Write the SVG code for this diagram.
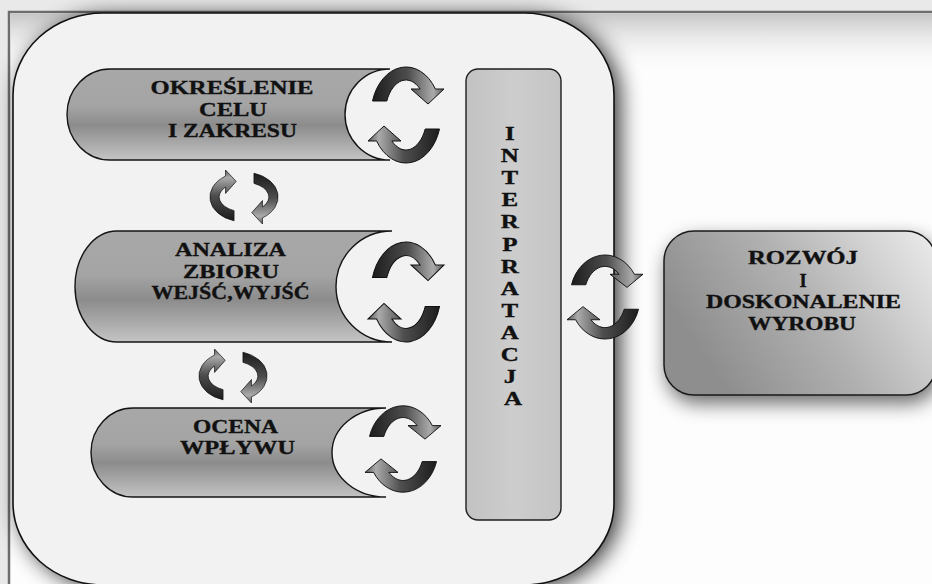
<svg xmlns="http://www.w3.org/2000/svg" width="932" height="584" viewBox="0 0 932 584">
  <defs>
    <style>
      .lbl{font-family:"Liberation Serif","Times New Roman",serif;font-weight:bold;font-size:18.5px;fill:#111;stroke:#111;stroke-width:0.35;text-anchor:middle}
      .tab{fill:url(#tabGrad);stroke:#151515;stroke-width:1.4}
      .ribbon{fill:url(#ribbonGrad);stroke:#111;stroke-width:1}
    </style>
    <linearGradient id="tabGrad" x1="0" y1="0" x2="0" y2="1">
      <stop offset="0" stop-color="#a8a8a8"/>
      <stop offset="0.4" stop-color="#a4a4a4"/>
      <stop offset="0.62" stop-color="#8c8c8c"/>
      <stop offset="1" stop-color="#c4c4c4"/>
    </linearGradient>
    <linearGradient id="ribbonGrad" x1="0" y1="0" x2="1" y2="0">
      <stop offset="0" stop-color="#1c1c1c"/>
      <stop offset="0.5" stop-color="#4e4e4e"/>
      <stop offset="0.85" stop-color="#ababab"/>
      <stop offset="1" stop-color="#5a5a5a"/>
    </linearGradient>
    <linearGradient id="boxGrad" x1="0" y1="0.4" x2="1" y2="0">
      <stop offset="0" stop-color="#8e8e8e"/>
      <stop offset="0.45" stop-color="#b2b2b2"/>
      <stop offset="1" stop-color="#ededed"/>
    </linearGradient>
    <linearGradient id="barGrad" x1="0" y1="0" x2="1" y2="0">
      <stop offset="0" stop-color="#c2c2c2"/>
      <stop offset="0.5" stop-color="#cdcdcd"/>
      <stop offset="1" stop-color="#c4c4c4"/>
    </linearGradient>
    <linearGradient id="topHaze" x1="0" y1="0" x2="0" y2="1">
      <stop offset="0" stop-color="#c6c6c6"/>
      <stop offset="1" stop-color="#ffffff" stop-opacity="0"/>
    </linearGradient>
    <filter id="soft" x="-20%" y="-20%" width="140%" height="140%">
      <feGaussianBlur stdDeviation="11"/>
    </filter>
    <filter id="softer" x="-30%" y="-30%" width="160%" height="160%">
      <feGaussianBlur stdDeviation="10"/>
    </filter>
    <!-- pair of curved ribbon arrows forming a cycle, centred on the origin -->
    <g id="cycle">
      <path class="ribbon" d="M -33.5,-14 A 35 48 0 0 1 29.4,-26 L 38,-26 L 22,-11 L 5,-26 L 14.1,-26 A 21 35 0 0 0 -19.2,-14 Z"/>
      <path class="ribbon" transform="rotate(180)" d="M -33.5,-14 A 35 48 0 0 1 29.4,-26 L 38,-26 L 22,-11 L 5,-26 L 14.1,-26 A 21 35 0 0 0 -19.2,-14 Z"/>
    </g>
  </defs>

  <!-- page and frame -->
  <rect x="0" y="0" width="932" height="584" fill="#e9e9e9"/>
  <rect x="9" y="12" width="940" height="590" fill="#fdfdfd" stroke="#6e6e6e" stroke-width="2.5"/>
  <rect x="10.5" y="13.5" width="922" height="62" fill="url(#topHaze)"/>

  <!-- soft shadows -->
  <rect x="13" y="13" width="601" height="572" rx="90" ry="82" fill="#000" opacity="0.8" transform="translate(6,3)" filter="url(#soft)"/>
  <rect x="664" y="231" width="272" height="164" rx="30" fill="#000" opacity="0.6" transform="translate(3,8)" filter="url(#softer)"/>

  <!-- main panel -->
  <g id="panel">
    <rect x="13" y="13" width="601" height="572" rx="90" ry="82" fill="#f2f2f2" stroke="#111" stroke-width="1.6"/>
  </g>

  <g id="node-okreslenie">
    <path class="tab" d="M 110,69 L 390,69 A 45 45.5 0 0 0 390,160 L 110,160 A 43 45.5 0 0 1 110,69 Z"/>
    <text class="lbl" x="232" y="94" textLength="163" lengthAdjust="spacingAndGlyphs">OKREŚLENIE</text>
    <text class="lbl" x="233" y="115.5" textLength="68" lengthAdjust="spacingAndGlyphs">CELU</text>
    <text class="lbl" x="232.5" y="136.5" textLength="129" lengthAdjust="spacingAndGlyphs">I ZAKRESU</text>
  </g>

  <g id="node-analiza">
    <path class="tab" d="M 117,231 L 392,231 A 56 55.5 0 0 0 392,342 L 117,342 A 42 55.5 0 0 1 117,231 Z"/>
    <text class="lbl" x="230.5" y="256" textLength="111" lengthAdjust="spacingAndGlyphs">ANALIZA</text>
    <text class="lbl" x="231" y="277.5" textLength="96" lengthAdjust="spacingAndGlyphs">ZBIORU</text>
    <text class="lbl" x="230.5" y="299" textLength="158" lengthAdjust="spacingAndGlyphs">WEJŚĆ,WYJŚĆ</text>
  </g>

  <g id="node-ocena">
    <path class="tab" d="M 133,408 L 386,408 A 54 44.5 0 0 0 386,497 L 133,497 A 42 44.5 0 0 1 133,408 Z"/>
    <text class="lbl" x="235.5" y="433" textLength="85" lengthAdjust="spacingAndGlyphs">OCENA</text>
    <text class="lbl" x="237.5" y="454" textLength="115" lengthAdjust="spacingAndGlyphs">WPŁYWU</text>
  </g>

  <g id="node-interpratacja">
    <rect x="466" y="69" width="95" height="451" rx="12" fill="url(#barGrad)" stroke="#1e1e1e" stroke-width="1.4"/>
    <text class="lbl" transform="translate(513,0) scale(1.35,1)">
      <tspan x="0" y="140">I</tspan>
      <tspan x="0" y="162">N</tspan>
      <tspan x="0" y="184">T</tspan>
      <tspan x="0" y="206.5">E</tspan>
      <tspan x="0" y="228.5">R</tspan>
      <tspan x="0" y="251">P</tspan>
      <tspan x="0" y="273">R</tspan>
      <tspan x="0" y="295">A</tspan>
      <tspan x="0" y="317">T</tspan>
      <tspan x="0" y="339.5">A</tspan>
      <tspan x="0" y="361.5">C</tspan>
      <tspan x="0" y="383.5">J</tspan>
      <tspan x="0" y="405.5">A</tspan>
    </text>
  </g>

  <g id="node-rozwoj">
    <rect x="664" y="231" width="272" height="164" rx="30" fill="url(#boxGrad)" stroke="#1a1a1a" stroke-width="1.5"/>
    <text class="lbl" x="803" y="264" textLength="110" lengthAdjust="spacingAndGlyphs">ROZWÓJ</text>
    <text class="lbl" x="803" y="287">I</text>
    <text class="lbl" x="803.5" y="308" textLength="195" lengthAdjust="spacingAndGlyphs">DOSKONALENIE</text>
    <text class="lbl" x="802" y="330" textLength="108" lengthAdjust="spacingAndGlyphs">WYROBU</text>
  </g>

  <!-- cyclic arrows linking the stages -->
  <g id="connectors">
    <use href="#cycle" transform="translate(406,115)"/>
    <use href="#cycle" transform="translate(406,292) scale(1,1.04)"/>
    <use href="#cycle" transform="translate(403,449) scale(1,0.9)"/>
    <use href="#cycle" transform="translate(605,297) scale(1,0.875)"/>
    <use href="#cycle" transform="translate(244,197) rotate(-90) scale(0.71)"/>
    <use href="#cycle" transform="translate(233,376) rotate(-90) scale(0.71)"/>
  </g>
</svg>
